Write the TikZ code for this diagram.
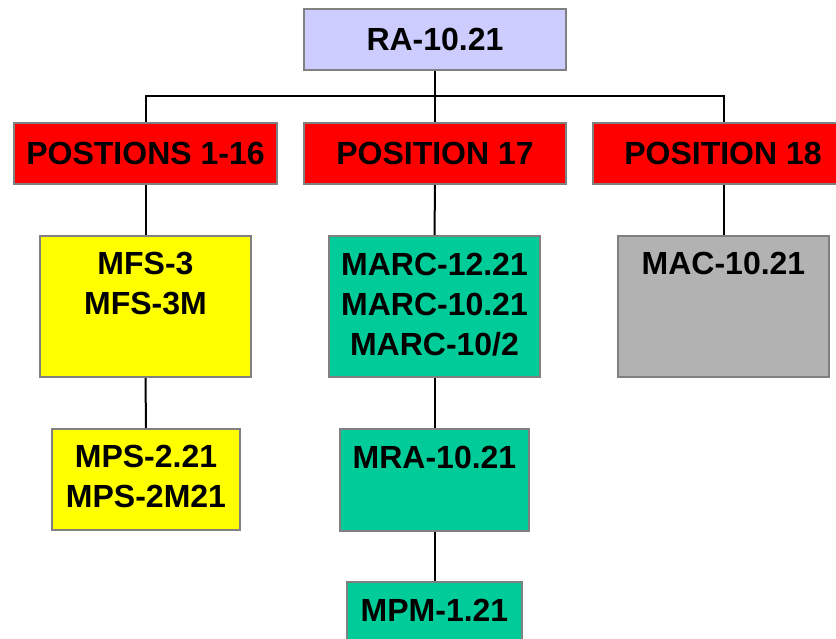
\documentclass[tikz,border=0pt]{standalone}
\usepackage{fontspec}
\setmainfont{Liberation Sans}
\definecolor{lav}{HTML}{CCCCFF}
\definecolor{redbox}{HTML}{FF0000}
\definecolor{yel}{HTML}{FFFF00}
\definecolor{teal}{HTML}{00CC99}
\definecolor{grey}{HTML}{B2B2B2}
\definecolor{boxline}{HTML}{808080}
\begin{document}
\begin{tikzpicture}[x=1pt,y=-1pt,
  box/.style={draw=boxline, line width=2pt, inner sep=0pt, anchor=north west},
  lbl/.style={font=\fontsize{32}{40}\selectfont\bfseries, align=center, inner sep=0pt, text=black},
  conn/.style={line width=2pt, draw=black}]
\useasboundingbox (0,0) rectangle (836,639);
\clip (0,0) rectangle (836,639);
% boxes
\node[box, fill=lav, minimum width=262pt, minimum height=61pt] (ra) at (303,8) {};
\node[box, fill=redbox, minimum width=263pt, minimum height=61pt] (p1) at (13,122) {};
\node[box, fill=redbox, minimum width=262pt, minimum height=61pt] (p17) at (303,122) {};
\node[box, fill=redbox, minimum width=261pt, minimum height=61pt] (p18) at (592,122) {};
\node[box, fill=yel, minimum width=211pt, minimum height=141pt] (mfs) at (39,235) {};
\node[box, fill=teal, minimum width=211pt, minimum height=141pt] (marc) at (328,235) {};
\node[box, fill=grey, minimum width=211pt, minimum height=141pt] (mac) at (617,235) {};
\node[box, fill=yel, minimum width=188pt, minimum height=101pt] (mps) at (51,428) {};
\node[box, fill=teal, minimum width=189pt, minimum height=102pt] (mra) at (339,428) {};
\node[box, fill=teal, minimum width=175pt, minimum height=80pt] (mpm) at (346,581) {};
% connectors
\coordinate (bus) at (433,96);
\draw[conn] (ra.south) -- (p17.north);
\draw[conn] (p1.north) -- (p1.north |- bus) -- (p18.north |- bus) -- (p18.north);
\draw[conn] (p1.south) -- (mfs.north);
\draw[conn] (p17.south) -- (marc.north);
\draw[conn] (p18.south) -- (mac.north);
\draw[conn] (mfs.south) -- (mps.north);
\draw[conn] (marc.south) -- (mra.north);
\draw[conn] (mra.south) -- (mpm.north);
% labels
\node[lbl] (ratxt) at (ra.center) {RA-10.21};
\node[lbl] (p1txt) at (p1.center) {POSTIONS 1-16};
\node[lbl] (p17txt) at (p17.center) {POSITION 17};
\node[lbl] (p18txt) at ([xshift=-0.5pt]p18.center) {POSITION 18};
\node[lbl, anchor=north] (mfstxt) at ([yshift=-17pt]mfs.north) {MFS-3\\MFS-3M};
\node[lbl, anchor=north] (marctxt) at ([yshift=-18pt]marc.north) {MARC-12.21\\MARC-10.21\\MARC-10/2};
\node[lbl, anchor=north] (mactxt) at ([yshift=-17pt]mac.north) {MAC-10.21};
\node[lbl, anchor=north] (mpstxt) at ([yshift=-17pt]mps.north) {MPS-2.21\\MPS-2M21};
\node[lbl, anchor=north] (mratxt) at ([yshift=-18pt]mra.north) {MRA-10.21};
\node[lbl, anchor=north] (mpmtxt) at ([yshift=-18pt]mpm.north) {MPM-1.21};
\end{tikzpicture}
\end{document}
